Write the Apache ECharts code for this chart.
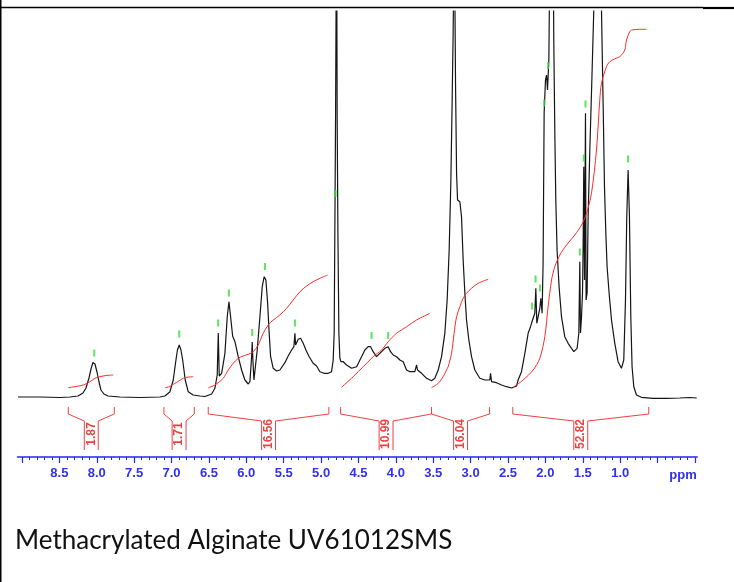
<!DOCTYPE html>
<html>
<head>
<meta charset="utf-8">
<script src="https://cdn.jsdelivr.net/npm/echarts@6/dist/echarts.min.js"></script>
<style>
html,body{margin:0;padding:0;background:#fff;}
#main{width:734px;height:582px;}
</style>
</head>
<body>
<div id="main"></div>
<script>
// spectrum trace [ppm, intensity]
var spectrum = [
  [9.053,3],[8.759,3],[8.492,2.5],[8.358,3],[8.251,4],[8.184,7],[8.144,12],[8.104,22],[8.077,31],[8.051,37.5],
  [8.024,36],[7.997,28],[7.970,18],[7.944,10],[7.904,6],[7.850,4],[7.690,3],[7.422,2.5],[7.155,3],
  [7.088,4],[7.021,8.3],[6.977,20],[6.941,40],[6.921,50],[6.897,55],[6.874,50],[6.851,40],[6.817,20],[6.777,8.3],
  [6.710,5],[6.620,4],[6.553,3.5],[6.464,6],[6.420,11.7],[6.389,25],[6.375,67],[6.362,24],[6.330,26.7],[6.286,46.7],
  [6.255,83.3],[6.232,98.3],[6.210,83.3],[6.183,64],[6.152,58.3],[6.108,43.3],[6.063,30],[6.019,20],[5.974,16],
  [5.952,18.3],[5.929,43.3],[5.921,58],[5.912,40],[5.898,20],[5.885,21.7],[5.854,50],[5.818,83.3],[5.787,113.3],
  [5.761,123.3],[5.738,120],[5.715,96.7],[5.694,66.7],[5.675,43.3],[5.662,41.7],[5.640,31.7],[5.595,29],[5.551,30],
  [5.484,37.3],[5.440,44],[5.394,50],[5.364,53.3],[5.350,66.7],[5.341,55],[5.306,60.7],[5.274,61.7],[5.239,56.7],
  [5.203,50],[5.159,43.3],[5.106,36.7],[5.060,34],[5.016,28.3],[4.962,26.7],[4.905,26.7],[4.860,28.3],[4.838,40],
  [4.825,67],[4.815,180],[4.806,287],[4.799,400],[4.795,520],[4.790,420],[4.785,283],[4.775,167],[4.762,67],
  [4.749,42],[4.735,38.3],[4.704,38.3],[4.659,35],[4.592,31.7],[4.525,33.3],[4.459,43.3],[4.414,50],[4.370,53.3],
  [4.338,53.3],[4.303,48.3],[4.258,43.3],[4.214,46.7],[4.147,51.7],[4.103,53.3],[4.071,48.3],[4.036,45],[3.991,43.3],
  [3.946,40],[3.902,38.3],[3.857,30],[3.813,28.3],[3.746,28.3],[3.723,35],[3.710,30],[3.656,26.7],[3.589,21.7],
  [3.523,19.3],[3.479,21.7],[3.434,30],[3.389,43.3],[3.345,66.7],[3.314,100],[3.287,150],[3.265,216.7],[3.247,300],
  [3.234,367],[3.218,480],[3.202,317],[3.188,226.7],[3.175,200],[3.144,198.3],[3.122,183.3],[3.100,140],[3.077,106.7],
  [3.055,80],[3.024,60],[2.988,43.3],[2.944,30],[2.877,21.7],[2.810,20],[2.743,20],[2.734,26.7],[2.720,18.3],
  [2.654,17.3],[2.587,15],[2.520,13.3],[2.453,12],[2.386,14],[2.365,20],[2.320,28.3],[2.275,46.7],[2.231,66.7],
  [2.199,73.3],[2.186,76.7],[2.164,75],[2.142,86.7],[2.128,111.7],[2.115,76.7],[2.098,75],[2.075,91.7],[2.061,101.7],
  [2.044,86.7],[2.031,136.7],[2.017,286.7],[1.999,320],[1.985,325],[1.972,310],[1.964,323.3],[1.954,340],[1.941,440],
  [1.921,500],[1.897,480],[1.888,360],[1.874,267],[1.861,200],[1.844,150],[1.817,113.3],[1.785,83.3],[1.741,63.3],
  [1.696,56.7],[1.651,51.7],[1.620,48.3],[1.576,51.7],[1.553,66.7],[1.540,138.3],[1.531,67],[1.517,83.3],[1.504,106.7],
  [1.496,150],[1.487,233.3],[1.477,120],[1.471,200],[1.464,286.7],[1.456,100],[1.442,107],[1.429,183.3],[1.406,250],
  [1.380,317],[1.353,390],[1.326,480],[1.293,500],[1.259,480],[1.250,390],[1.229,300],[1.210,213.3],[1.192,167],
  [1.175,133.3],[1.148,106.7],[1.116,80],[1.072,56.7],[1.028,38.3],[0.983,31.7],[0.952,40],[0.929,100],[0.912,183.3],
  [0.894,230],[0.876,183.3],[0.858,83.3],[0.841,33.3],[0.818,13.3],[0.782,5],[0.715,2.7],[0.560,1.7],[0.381,1.7],
  [0.203,2],[0.070,2.5],[-0.024,2]
];

// integral regions (ppm) and values
var integralFrom = [8.381, 7.102, 6.509, 4.739, 3.523, 2.436];
var integralTo = [7.766, 6.696, 4.896, 3.523, 2.747, 0.618];
var integralValues = [1.87, 1.71, 16.56, 10.99, 16.04, 52.82];

// integral curves traced [ppm, height]
var integralCurves = [
  [[8.381,12.3],[8.278,13.5],[8.180,15],[8.091,18.3],[8.024,21.7],[7.957,23.3],[7.877,24.5],[7.779,25]],
  [[7.088,12.3],[7.021,13.5],[6.977,15.7],[6.934,17.5],[6.897,19.3],[6.861,21],[6.821,22.3],[6.767,23],[6.710,23.3]],
  [[6.509,12.3],[6.420,15],[6.309,21.7],[6.242,30],[6.175,36.7],[6.108,41.7],[6.041,44],[5.974,45.7],[5.908,48.3],
   [5.841,55],[5.774,66.7],[5.707,75],[5.640,80],[5.551,85],[5.461,91.7],[5.373,100],[5.283,108.3],[5.194,114],
   [5.106,118.3],[5.016,121.7],[4.913,125]],
  [[4.726,12.7],[4.571,23.3],[4.437,33.3],[4.303,43.3],[4.191,50],[4.103,58.3],[3.991,66.7],[3.857,73.3],[3.723,80],[3.545,86.7]],
  [[3.523,12.3],[3.434,16.7],[3.368,23.3],[3.322,30],[3.301,33.3],[3.255,46.7],[3.221,66.7],[3.188,83.3],[3.144,93.3],
   [3.100,101.7],[3.055,106.7],[2.988,111.7],[2.900,116.7],[2.766,120.7]],
  [[2.432,12.7],[2.298,20],[2.164,30],[2.075,41.7],[2.008,63.3],[1.964,93.3],[1.918,120],[1.874,133.3],[1.807,145],
   [1.718,155],[1.607,165],[1.517,175],[1.450,186.7],[1.384,206.7],[1.317,250],[1.273,300],[1.250,316.7],[1.183,333.3],
   [1.139,338.3],[1.049,342],[1.005,343.3],[0.938,350],[0.916,360],[0.872,368.3],[0.849,370],[0.738,370.7],[0.648,370.7]]
];

// picked peaks
var peakPpm = [8.033, 6.897, 6.376, 6.233, 5.921, 5.751, 5.350, 4.806, 4.325, 4.103,
               2.178, 2.132, 2.071, 2.017, 1.964, 1.540, 1.487, 1.464, 0.894];
var peakMark = [47, 66, 77, 107, 67.5, 133.5, 77, 206.5, 64.5, 64.5,
                94, 121, 112, 297, 334.5, 148, 242, 296, 241];

var majorTicks = [0, 0.5, 1, 1.5, 2, 2.5, 3, 3.5, 4, 4.5, 5, 5.5, 6, 6.5, 7, 7.5, 8, 8.5, 9];
var tickLabels = [1, 1.5, 2, 2.5, 3, 3.5, 4, 4.5, 5, 5.5, 6, 6.5, 7, 7.5, 8, 8.5];
var minorTicks = [];
for (var t = 0; t <= 90; t++) minorTicks.push(t / 10);

var BLUE = '#2626f0';
var RED = '#f04040';

var myChart = echarts.init(document.getElementById('main'));

var series = [];
// spectrum
series.push({
  type: 'line', data: spectrum, showSymbol: false, silent: true,
  lineStyle: {color: '#151515', width: 1.2}, z: 3
});
// integral curves
integralCurves.forEach(function (c) {
  series.push({
    type: 'line', data: c, showSymbol: false, smooth: 0.3, silent: true,
    lineStyle: {color: '#ff2a2a', width: 1}, z: 4
  });
});
// integral brackets
var half = 0.093;
var labelData = [];
for (var i = 0; i < integralFrom.length; i++) {
  var a = integralFrom[i], b = integralTo[i], c = (a + b) / 2;
  series.push({
    type: 'line', showSymbol: false, silent: true, lineStyle: {color: RED, width: 1},
    data: [[a, -7], [a, -14], [c + half, -21], [c + half, -50]]
  });
  series.push({
    type: 'line', showSymbol: false, silent: true, lineStyle: {color: RED, width: 1},
    data: [[b, -7], [b, -14], [c - half, -21], [c - half, -50]]
  });
  labelData.push([c, -34]);
}
series.push({
  type: 'scatter', data: labelData, symbolSize: 0, silent: true,
  label: {
    show: true, position: 'inside', rotate: 90,
    formatter: function (p) { return integralValues[p.dataIndex].toFixed(2); },
    color: '#e01515', fontSize: 12, fontWeight: 'bold', fontFamily: 'Liberation Sans, Arial, sans-serif'
  }
});
// peak markers
series.push({
  type: 'scatter', silent: true, symbol: 'rect', symbolSize: [2, 7],
  itemStyle: {color: '#33dd33'},
  data: peakPpm.map(function (p, k) { return [p, peakMark[k]]; }), z: 5
});

var option = {
  animation: false,
  backgroundColor: '#fff',
  grid: {left: 17.5, right: 36.8, top: 11, bottom: 125},
  xAxis: [{
    type: 'value', min: -0.03, max: 9.06, inverse: true, position: 'bottom',
    axisLine: {show: true, onZero: false, lineStyle: {color: BLUE, width: 1.5}},
    axisTick: {show: true, length: 6, customValues: majorTicks, lineStyle: {color: BLUE, width: 1.2}},
    axisLabel: {
      customValues: tickLabels, margin: 10,
      formatter: function (v) { return v.toFixed(1); },
      color: '#3030ee', fontSize: 13, fontWeight: 'bold', fontFamily: 'Liberation Sans, Arial, sans-serif'
    },
    splitLine: {show: false}
  }, {
    type: 'value', min: -0.03, max: 9.06, inverse: true, position: 'bottom',
    axisLine: {show: false, onZero: false},
    axisTick: {show: true, length: 3, customValues: minorTicks, lineStyle: {color: BLUE, width: 1}},
    axisLabel: {show: false},
    splitLine: {show: false}
  }],
  yAxis: {type: 'value', min: -57, max: 389, show: false},
  graphic: [
    {type: 'line', shape: {x1: 0.75, y1: 0, x2: 0.75, y2: 582}, style: {stroke: '#000', lineWidth: 1.5}},
    {type: 'line', shape: {x1: 0, y1: 7.5, x2: 703, y2: 7.5}, style: {stroke: '#000', lineWidth: 1.3}},
    {type: 'line', shape: {x1: 703, y1: 8, x2: 734, y2: 8}, style: {stroke: '#000', lineWidth: 2.2}},
    {type: 'text', x: 683, y: 475, style: {text: 'ppm', fill: '#3030ee', font: 'bold 13px "Liberation Sans", Arial, sans-serif', align: 'center', verticalAlign: 'middle'}},
    {type: 'text', x: 15, y: 541, style: {text: 'Methacrylated Alginate UV61012SMS', fill: '#111', font: '26px Lato, "Open Sans", sans-serif', align: 'left', verticalAlign: 'middle'}}
  ],
  series: series
};
myChart.setOption(option);
</script>
</body>
</html>
